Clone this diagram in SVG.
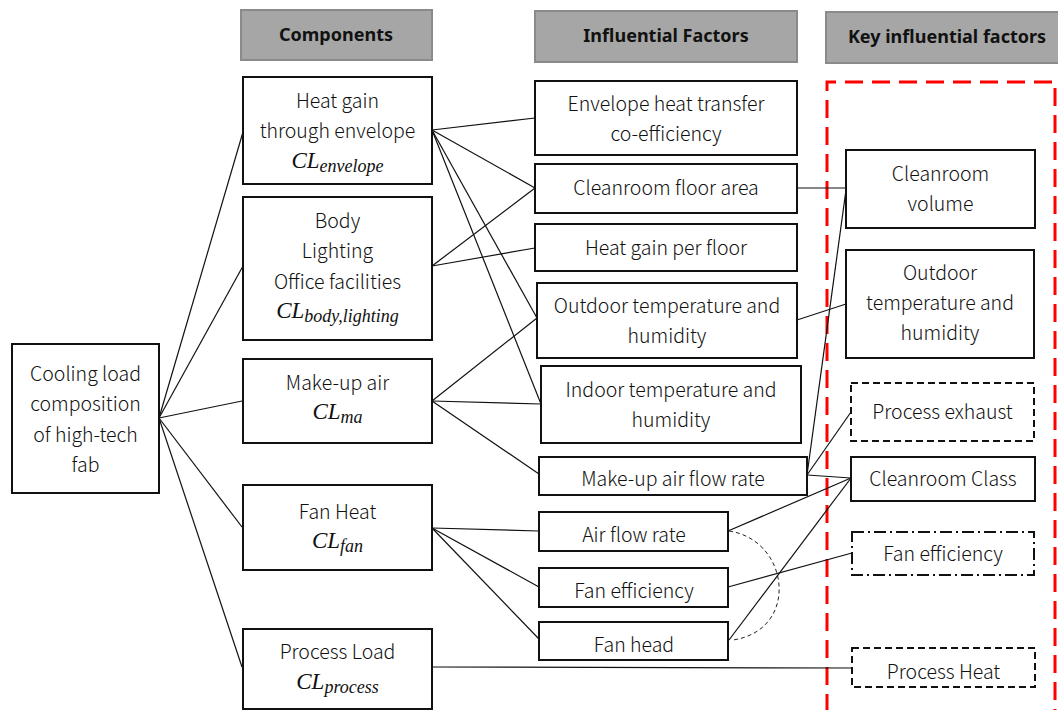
<svg xmlns="http://www.w3.org/2000/svg" width="1058" height="710" viewBox="0 0 1058 710">
<style>
.hdr{fill:#a6a6a6;stroke:#8a8a8a;stroke-width:2}
.ht{font-family:"Noto Sans","Noto Sans CJK SC",sans-serif;font-weight:bold;font-size:18px;fill:#111;text-anchor:middle}
.box{fill:#fff;stroke:#111;stroke-width:2}
.dash{fill:#fff;stroke:#111;stroke-width:2;stroke-dasharray:7 4}
.dashdot{fill:#fff;stroke:#111;stroke-width:2;stroke-dasharray:12 4 2 4}
.t{font-family:"Noto Sans CJK SC","Noto Sans",sans-serif;font-weight:300;font-size:19.5px;fill:#111;text-anchor:middle}
.m{font-family:"Liberation Serif","DejaVu Serif",serif;font-style:italic;font-size:23px;fill:#111;text-anchor:middle}
.sub{font-size:18px}
.ln{stroke:#111;stroke-width:1.2;fill:none}
.arc{stroke:#222;stroke-width:1;fill:none;stroke-dasharray:4 3}
.red{stroke:#ff0000;stroke-width:3;fill:none;stroke-dasharray:18 9}
</style>

<g id="headers">
<g id="h-components"><rect class="hdr" x="241" y="10" width="191" height="50"/><text class="ht" x="336" y="41">Components</text></g>
<g id="h-influential"><rect class="hdr" x="535" y="11" width="262" height="51"/><text class="ht" x="666" y="42">Influential Factors</text></g>
<g id="h-key"><rect class="hdr" x="826" y="12" width="240" height="51"/><text class="ht" x="947" y="43">Key influential factors</text></g>
</g>

<g id="key-region"><path class="red" d="M827,712 V82 H1055 V712"/></g>

<g id="connectors">
<line class="ln" x1="159" y1="418" x2="243" y2="132"/>
<line class="ln" x1="159" y1="418" x2="243" y2="266"/>
<line class="ln" x1="159" y1="418" x2="242" y2="401"/>
<line class="ln" x1="159" y1="418" x2="242" y2="527"/>
<line class="ln" x1="159" y1="418" x2="242" y2="667"/>
<line class="ln" x1="432" y1="130" x2="535" y2="118"/>
<line class="ln" x1="432" y1="130" x2="535" y2="188"/>
<line class="ln" x1="432" y1="130" x2="537" y2="318"/>
<line class="ln" x1="432" y1="130" x2="541" y2="404"/>
<line class="ln" x1="432" y1="266" x2="535" y2="188"/>
<line class="ln" x1="432" y1="266" x2="535" y2="248"/>
<line class="ln" x1="432" y1="401" x2="537" y2="318"/>
<line class="ln" x1="432" y1="401" x2="541" y2="404"/>
<line class="ln" x1="432" y1="401" x2="539" y2="474"/>
<line class="ln" x1="432" y1="528" x2="539" y2="531"/>
<line class="ln" x1="432" y1="528" x2="539" y2="587"/>
<line class="ln" x1="432" y1="528" x2="539" y2="639"/>
<line class="ln" x1="432" y1="667" x2="852" y2="668"/>
<line class="ln" x1="797" y1="188" x2="846" y2="188"/>
<line class="ln" x1="797" y1="320" x2="846" y2="304"/>
<line class="ln" x1="807" y1="475" x2="846" y2="190"/>
<line class="ln" x1="807" y1="475" x2="851" y2="412"/>
<line class="ln" x1="807" y1="475" x2="851" y2="478"/>
<line class="ln" x1="728" y1="531" x2="851" y2="478"/>
<line class="ln" x1="729" y1="640" x2="851" y2="478"/>
<line class="ln" x1="728" y1="587" x2="852" y2="553"/>
<path class="arc" d="M729,531 C790,540 800,630 733,640"/>
</g>

<g id="n-cooling"><rect class="box" x="12" y="344" width="147" height="149"/>
<text class="t" x="85.5" y="381">Cooling load</text><text class="t" x="85.5" y="411">composition</text><text class="t" x="85.5" y="442">of high-tech</text><text class="t" x="85.5" y="472">fab</text></g>

<g id="n-envelope"><rect class="box" x="243" y="77" width="189" height="107"/>
<text class="t" x="337.5" y="108">Heat gain</text><text class="t" x="337.5" y="138">through envelope</text>
<text class="m" x="337.5" y="168">CL<tspan class="sub" dy="4">envelope</tspan></text></g>

<g id="n-body"><rect class="box" x="243" y="197" width="189" height="143"/>
<text class="t" x="337.5" y="228">Body</text><text class="t" x="337.5" y="258">Lighting</text><text class="t" x="337.5" y="289">Office facilities</text>
<text class="m" x="337.5" y="318">CL<tspan class="sub" dy="4">body,lighting</tspan></text></g>

<g id="n-makeup"><rect class="box" x="243" y="359" width="189" height="84"/>
<text class="t" x="337.5" y="390">Make-up air</text>
<text class="m" x="337.5" y="419">CL<tspan class="sub" dy="4">ma</tspan></text></g>

<g id="n-fanheat"><rect class="box" x="243" y="485" width="189" height="85"/>
<text class="t" x="337.5" y="519">Fan Heat</text>
<text class="m" x="337.5" y="548">CL<tspan class="sub" dy="4">fan</tspan></text></g>

<g id="n-process"><rect class="box" x="243" y="629" width="189" height="80"/>
<text class="t" x="337.5" y="659">Process Load</text>
<text class="m" x="337.5" y="689">CL<tspan class="sub" dy="4">process</tspan></text></g>

<g id="f-envelope"><rect class="box" x="535" y="81" width="262" height="74"/>
<text class="t" x="666" y="111">Envelope heat transfer</text><text class="t" x="666" y="141">co-efficiency</text></g>
<g id="f-floorarea"><rect class="box" x="535" y="164" width="262" height="49"/>
<text class="t" x="666" y="195">Cleanroom floor area</text></g>
<g id="f-heatgain"><rect class="box" x="535" y="224" width="262" height="47"/>
<text class="t" x="666" y="255">Heat gain per floor</text></g>
<g id="f-outdoor"><rect class="box" x="537" y="283" width="260" height="75"/>
<text class="t" x="667" y="313">Outdoor temperature and</text><text class="t" x="667" y="343">humidity</text></g>
<g id="f-indoor"><rect class="box" x="541" y="366" width="260" height="77"/>
<text class="t" x="671" y="397">Indoor temperature and</text><text class="t" x="671" y="427">humidity</text></g>
<g id="f-makeupflow"><rect class="box" x="539" y="457" width="268" height="38"/>
<text class="t" x="673" y="486">Make-up air flow rate</text></g>
<g id="f-airflow"><rect class="box" x="539" y="512" width="189" height="39"/>
<text class="t" x="634" y="542">Air flow rate</text></g>
<g id="f-faneff"><rect class="box" x="539" y="568" width="189" height="39"/>
<text class="t" x="634" y="598">Fan efficiency</text></g>
<g id="f-fanhead"><rect class="box" x="539" y="622" width="189" height="38"/>
<text class="t" x="634" y="652">Fan head</text></g>

<g id="k-volume"><rect class="box" x="846" y="150" width="189" height="78"/>
<text class="t" x="940.5" y="181">Cleanroom</text><text class="t" x="940.5" y="211">volume</text></g>
<g id="k-outdoor"><rect class="box" x="846" y="250" width="188" height="108"/>
<text class="t" x="940" y="280">Outdoor</text><text class="t" x="940" y="310">temperature and</text><text class="t" x="940" y="340">humidity</text></g>
<g id="k-exhaust"><rect class="dash" x="851" y="383" width="183" height="58"/>
<text class="t" x="942.5" y="419">Process exhaust</text></g>
<g id="k-class"><rect class="box" x="851" y="457" width="184" height="44"/>
<text class="t" x="943" y="486">Cleanroom Class</text></g>
<g id="k-faneff"><rect class="dashdot" x="852" y="532" width="182" height="43"/>
<text class="t" x="943" y="561">Fan efficiency</text></g>
<g id="k-heat"><rect class="dash" x="852" y="648" width="183" height="39"/>
<text class="t" x="943.5" y="679">Process Heat</text></g>
</svg>
